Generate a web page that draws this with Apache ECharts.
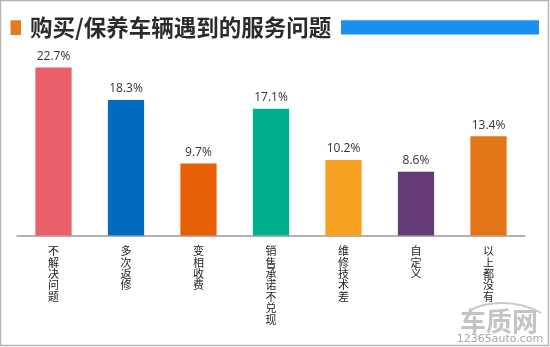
<!DOCTYPE html>
<html><head><meta charset="utf-8">
<script src="https://cdn.jsdelivr.net/npm/echarts@6/dist/echarts.min.js"></script>
<style>html,body{margin:0;padding:0;background:#fff}#c{width:550px;height:347px}</style>
</head><body><div id="c"></div>
<script>
const categories = ['不解决问题','多次返修','变相收费','销售承诺不兑现','维修技术差','自定义','以上都没有'];
const values = [22.7, 18.3, 9.7, 17.1, 10.2, 8.6, 13.4];
const barColors = ['#EB5F6B','#006BBF','#E86006','#00AF8E','#F5A020','#643A77','#E37718'];
const titleText = '购买/保养车辆遇到的服务问题';

const chart = echarts.init(document.getElementById('c'), null, {renderer:'canvas'});
chart.setOption({
  animation:false,
  backgroundColor:'#fff',
  grid:{left:17.25, right:25.25, top:13.4, bottom:111.6},
  xAxis:{type:'category', data:categories,
    axisLine:{lineStyle:{color:'#999', width:1.5}},
    axisTick:{show:false},
    axisLabel:{interval:0, margin:10, color:'#222', fontSize:11, lineHeight:11.4,
      fontFamily:'Noto Sans CJK SC',
      formatter:v=>v.split('').join('\n')}},
  yAxis:{type:'value', min:0, max:30, show:false, splitLine:{show:false}},
  series:[{type:'bar', barWidth:'50%',
    data:values.map((v,i)=>({value:v, itemStyle:{color:barColors[i]}})),
    label:{show:true, position:'top', distance:5, color:'#333', fontSize:12,
      fontFamily:'Open Sans', formatter:p=>p.value.toFixed(1)+'%'}}],
  graphic:[
    {type:'rect', shape:{x:0.5,y:0.5,width:548,height:345}, style:{fill:'none', stroke:'#b4b4b4', lineWidth:1.5}},
    {type:'rect', shape:{x:10.5,y:20.3,width:10.5,height:14.7}, style:{fill:'#E57C1B'}},
    {type:'rect', shape:{x:341,y:20.3,width:198,height:14.1}, style:{fill:'#1A8FEF'}},
    {type:'text', x:30, y:27.5, style:{text:titleText, fill:'#2b2b2b', font:'bold 22.5px "Noto Sans CJK SC"', textVerticalAlign:'middle'}},
    {type:'bezierCurve', z:10, shape:{x1:470,y1:311,cpx1:482,cpy1:302,cpx2:515,cpy2:298,x2:541,y2:313}, style:{fill:null, stroke:'#c8c8c8', lineWidth:2}},
    {type:'text', x:499, y:321, style:{text:'车质网', fill:'#c4c4c4', font:'bold 26px "Noto Sans CJK SC"', textAlign:'center', textVerticalAlign:'middle'}},
    {type:'text', x:500, y:339, style:{text:'12365auto.com', fill:'#a8a8a8', font:'11px "DejaVu Sans"', textAlign:'center', textVerticalAlign:'middle'}}
  ]
});
</script></body></html>
